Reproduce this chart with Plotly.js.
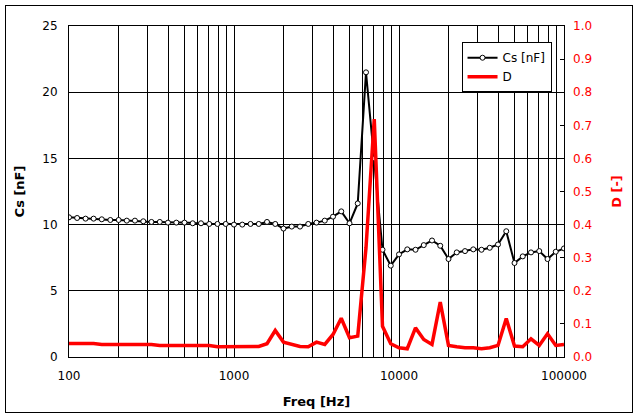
<!DOCTYPE html>
<html>
<head>
<meta charset="utf-8">
<script src="https://cdn.plot.ly/plotly-3.0.1.min.js"></script>
<style>
  html, body { margin: 0; padding: 0; background: #fff; }
  #wrap { position: relative; width: 639px; height: 418px; }
  #chart { width: 639px; height: 418px; }
  #frame { position: absolute; left: 5px; top: 5px; width: 626px; height: 406px;
           border: 1px solid #000; pointer-events: none; }
</style>
</head>
<body>
<div id="wrap">
  <div id="chart"></div>
  <div id="frame"></div>
</div>
<script>
// measurement frequencies [Hz], 20 per decade
var freq = [100, 112, 126, 141, 158, 178, 200, 224, 251, 282,
            316, 355, 398, 447, 501, 562, 631, 708, 794, 891,
            1000, 1122, 1259, 1413, 1585, 1778, 1995, 2239, 2512, 2818,
            3162, 3548, 3981, 4467, 5012, 5623, 6310, 7079, 7943, 8913,
            10000, 11220, 12589, 14125, 15849, 17783, 19953, 22387, 25119, 28184,
            31623, 35481, 39811, 44668, 50119, 56234, 63096, 70795, 79433, 89125,
            100000];

// capacitance Cs [nF]
var cs = [10.55, 10.5, 10.45, 10.45, 10.4, 10.35, 10.35, 10.3, 10.3, 10.25,
          10.2, 10.2, 10.15, 10.15, 10.15, 10.1, 10.1, 10.05, 10.05, 10.05,
          10.0, 10.0, 10.05, 10.05, 10.2, 10.05, 9.7, 9.85, 9.85, 10.05,
          10.15, 10.3, 10.6, 11.0, 10.1, 11.6, 21.5, 15.0, 8.1, 6.9,
          7.75, 8.13, 8.1, 8.45, 8.8, 8.4, 7.4, 7.9, 8.0, 8.13,
          8.1, 8.25, 8.5, 9.5, 7.1, 7.6, 7.9, 8.0, 7.4, 7.95,
          8.2];

// dissipation factor D [-]
var dis = [0.041, 0.041, 0.041, 0.041, 0.038, 0.038, 0.038, 0.038, 0.038, 0.038,
           0.038, 0.035, 0.035, 0.035, 0.035, 0.035, 0.035, 0.035, 0.031, 0.031,
           0.031, 0.031, 0.031, 0.032, 0.04, 0.08, 0.045, 0.038, 0.032, 0.031,
           0.045, 0.038, 0.068, 0.117, 0.058, 0.063, 0.33, 0.719, 0.093, 0.04,
           0.028, 0.025, 0.088, 0.053, 0.038, 0.166, 0.035, 0.031, 0.028, 0.028,
           0.025, 0.028, 0.035, 0.116, 0.033, 0.031, 0.055, 0.035, 0.07, 0.035,
           0.038];

// x grid at every 1..9 x decade, labels only at decades
var xTicks = [100, 200, 300, 400, 500, 600, 700, 800, 900,
              1000, 2000, 3000, 4000, 5000, 6000, 7000, 8000, 9000,
              10000, 20000, 30000, 40000, 50000, 60000, 70000, 80000, 90000,
              100000];
var xLabels = xTicks.map(function (v) {
  return Math.log10(v) % 1 === 0 ? String(v) : '';
});

var font = 'DejaVu Sans, Verdana, sans-serif';

var traces = [
  {
    x: freq, y: cs, name: 'Cs [nF]', type: 'scatter', mode: 'lines+markers',
    line: {color: '#000', width: 2},
    marker: {symbol: 'circle', size: 5, color: '#fff', line: {color: '#000', width: 1}}
  },
  {
    x: freq, y: dis, name: 'D', type: 'scatter', mode: 'lines', yaxis: 'y2',
    line: {color: '#ff0000', width: 3.5}
  }
];

var layout = {
  width: 639, height: 418,
  margin: {l: 69, r: 75, t: 26, b: 61},
  paper_bgcolor: '#fff', plot_bgcolor: '#fff',
  font: {family: font, size: 12, color: '#000'},
  showlegend: true,
  legend: {
    x: 0.793, y: 0.951, xanchor: 'left', yanchor: 'top',
    bgcolor: '#fff', bordercolor: '#000', borderwidth: 1,
    font: {family: font, size: 12, color: '#000'},
    itemwidth: 30, tracegroupgap: 0
  },
  xaxis: {
    type: 'log', range: [2, 5],
    tickvals: xTicks, ticktext: xLabels, ticks: '',
    showgrid: true, gridcolor: '#000', gridwidth: 1,
    showline: true, linecolor: '#000', linewidth: 1, mirror: true,
    zeroline: false, ticklabelstandoff: 8,
    tickfont: {family: font, size: 12, color: '#000'},
    title: {text: '<b>Freq [Hz]</b>', font: {family: font, size: 13, color: '#000'}, standoff: 14}
  },
  yaxis: {
    range: [0, 25], dtick: 5, ticks: '',
    showgrid: true, gridcolor: '#000', gridwidth: 1,
    showline: true, linecolor: '#000', linewidth: 1, mirror: true,
    zeroline: false, ticklabelstandoff: 8,
    tickfont: {family: font, size: 12, color: '#000'},
    title: {text: '<b>Cs [nF]</b>', font: {family: font, size: 13, color: '#000'}, standoff: 14}
  },
  yaxis2: {
    overlaying: 'y', side: 'right',
    range: [0, 1], dtick: 0.1, tickformat: '.1f',
    ticks: 'inside', ticklen: 4, tickcolor: '#000',
    showgrid: false, zeroline: false, showline: false,
    ticklabelstandoff: 8,
    tickfont: {family: font, size: 12, color: '#ff0000'},
    title: {text: '<b>D [-]</b>', font: {family: font, size: 13, color: '#ff0000'}, standoff: 20}
  }
};

Plotly.newPlot('chart', traces, layout, {staticPlot: true, displayModeBar: false});
</script>
</body>
</html>
